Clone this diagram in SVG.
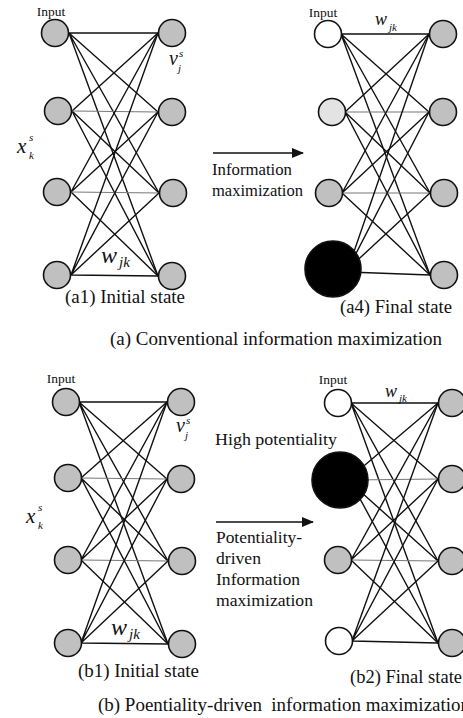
<svg xmlns="http://www.w3.org/2000/svg" width="463" height="718" viewBox="0 0 463 718">
  <style>
    text { font-family: "Liberation Serif", "Times New Roman", serif; fill: #111; }
    .cap { font-size: 18px; }
    .lbl { font-size: 17px; }
    .inp { font-size: 13.5px; text-anchor: middle; }
    .m { font-style: italic; }
    .n { stroke: #111; stroke-width: 1.6; }
    .gray { fill: #c0c0c0; }
    .light { fill: #e3e3e3; }
    .white { fill: #ffffff; }
    .black { fill: #000000; }
    .w { stroke: #111; stroke-width: 1.4; fill: none; }
    .wg { stroke: #777; stroke-width: 1.1; fill: none; }
    .arrow { stroke: #111; stroke-width: 1.6; fill: none; }
  </style>
  <defs>
    <marker id="head" markerWidth="12" markerHeight="10" refX="11" refY="5" orient="auto" markerUnits="userSpaceOnUse">
      <path d="M0,0 L12,5 L0,10 Z" fill="#111"/>
    </marker>
  </defs>

  <!-- (a1) initial network: connectors -->
  <g id="a1-connectors">
    <path class="w" d="M69,33 L158,33 M69,33 L158,112 M69,33 L159,193 M69,33 L158,276"/>
    <path class="w" d="M72,111 L158,33 M72,111 L159,193 M72,111 L158,276"/>
    <path class="wg" d="M72,111 L158,112"/>
    <path class="w" d="M71,192 L158,33 M71,192 L158,112 M71,192 L158,276"/>
    <path class="wg" d="M71,192 L159,193"/>
    <path class="w" d="M71,275 L158,33 M71,275 L158,112 M71,275 L159,193 M71,275 L158,276"/>
  </g>
  <g id="a1-x1"><circle class="n gray" cx="55" cy="33" r="13.5"/></g>
  <g id="a1-x2"><circle class="n gray" cx="58" cy="111" r="13.5"/></g>
  <g id="a1-x3"><circle class="n gray" cx="57" cy="192" r="13.5"/></g>
  <g id="a1-x4"><circle class="n gray" cx="57" cy="275" r="13.5"/></g>
  <g id="a1-v1"><circle class="n gray" cx="172" cy="33" r="13.5"/></g>
  <g id="a1-v2"><circle class="n gray" cx="172" cy="112" r="13.5"/></g>
  <g id="a1-v3"><circle class="n gray" cx="173" cy="193" r="13.5"/></g>
  <g id="a1-v4"><circle class="n gray" cx="172" cy="276" r="13.5"/></g>

  <!-- (a4) final network: connectors -->
  <g id="a4-connectors">
    <path class="w" d="M341,34 L429,34 M341,34 L429,112 M341,34 L430,193 M341,34 L430,275"/>
    <path class="w" d="M345,112 L429,34 M345,112 L430,193 M345,112 L430,275"/>
    <path class="wg" d="M345,112 L429,112"/>
    <path class="w" d="M342,193 L429,34 M342,193 L429,112 M342,193 L430,275"/>
    <path class="wg" d="M342,193 L430,193"/>
    <path class="w" d="M348,269 L429,34 M348,269 L429,112 M348,269 L430,193 M348,272 L430,275"/>
  </g>
  <g id="a4-x1"><circle class="n white" cx="328" cy="34" r="13.5"/></g>
  <g id="a4-x2"><circle class="n light" cx="332" cy="112" r="13.5"/></g>
  <g id="a4-x3"><circle class="n gray" cx="329" cy="193" r="13.5"/></g>
  <g id="a4-x4"><circle class="n black" cx="333" cy="269" r="28"/></g>
  <g id="a4-v1"><circle class="n gray" cx="443" cy="34" r="13.5"/></g>
  <g id="a4-v2"><circle class="n gray" cx="443" cy="112" r="13.5"/></g>
  <g id="a4-v3"><circle class="n gray" cx="444" cy="193" r="13.5"/></g>
  <g id="a4-v4"><circle class="n gray" cx="444" cy="275" r="13.5"/></g>

  <!-- (b1) initial network: connectors -->
  <g id="b1-connectors">
    <path class="w" d="M79,402 L167,402 M79,402 L167,479 M79,402 L168,561 M79,402 L168,644"/>
    <path class="w" d="M81,478 L167,402 M81,478 L168,561 M81,478 L168,644"/>
    <path class="wg" d="M81,478 L167,479"/>
    <path class="w" d="M81,560 L167,402 M81,560 L167,479 M81,560 L168,644"/>
    <path class="wg" d="M81,560 L168,561"/>
    <path class="w" d="M81,643 L167,402 M81,643 L167,479 M81,643 L168,561 M81,643 L168,644"/>
  </g>
  <g id="b1-x1"><circle class="n gray" cx="66" cy="402" r="13.5"/></g>
  <g id="b1-x2"><circle class="n gray" cx="68" cy="478" r="13.5"/></g>
  <g id="b1-x3"><circle class="n gray" cx="68" cy="560" r="13.5"/></g>
  <g id="b1-x4"><circle class="n gray" cx="68" cy="643" r="13.5"/></g>
  <g id="b1-v1"><circle class="n gray" cx="181" cy="402" r="13.5"/></g>
  <g id="b1-v2"><circle class="n gray" cx="181" cy="479" r="13.5"/></g>
  <g id="b1-v3"><circle class="n gray" cx="182" cy="561" r="13.5"/></g>
  <g id="b1-v4"><circle class="n gray" cx="182" cy="644" r="13.5"/></g>

  <!-- (b2) final network: connectors -->
  <g id="b2-connectors">
    <path class="w" d="M351,403 L438,403 M351,403 L438,479 M351,403 L438,561 M351,403 L438,643"/>
    <path class="w" d="M352,476 L438,403 M352,484 L438,561 M352,484 L438,643"/>
    <path class="wg" d="M352,480 L438,479"/>
    <path class="w" d="M351,560 L438,403 M351,560 L438,479 M351,560 L438,643"/>
    <path class="wg" d="M351,560 L438,561"/>
    <path class="w" d="M352,641 L438,403 M352,641 L438,479 M352,641 L438,561 M352,641 L438,643"/>
  </g>
  <g id="b2-x1"><circle class="n white" cx="338" cy="403" r="13.5"/></g>
  <g id="b2-x2"><circle class="n black" cx="340" cy="480" r="28"/></g>
  <g id="b2-x3"><circle class="n gray" cx="338" cy="560" r="13.5"/></g>
  <g id="b2-x4"><circle class="n white" cx="339" cy="641" r="13.5"/></g>
  <g id="b2-v1"><circle class="n gray" cx="452" cy="403" r="13.5"/></g>
  <g id="b2-v2"><circle class="n gray" cx="452" cy="479" r="13.5"/></g>
  <g id="b2-v3"><circle class="n gray" cx="452" cy="561" r="13.5"/></g>
  <g id="b2-v4"><circle class="n gray" cx="452" cy="643" r="13.5"/></g>

  <!-- transition arrows -->
  <g id="arrows">
    <line class="arrow" x1="213" y1="153" x2="303" y2="153" marker-end="url(#head)"/>
    <line class="arrow" x1="216" y1="522" x2="313" y2="522" marker-end="url(#head)"/>
  </g>

  <!-- labels, upper panel -->
  <g id="labels-a">
    <text class="inp" x="51" y="16">Input</text>
    <text class="inp" x="323" y="17">Input</text>
    <text class="m" x="17" y="153" font-size="21">x</text>
    <text class="m" x="29" y="141" font-size="11">s</text>
    <text class="m" x="29" y="159" font-size="11">k</text>
    <text class="m" x="169" y="65" font-size="20">v</text>
    <text class="m" x="179" y="57" font-size="11">s</text>
    <text class="m" x="178" y="72" font-size="11">j</text>
    <text class="m" x="101" y="263" font-size="24">w</text>
    <text class="m" x="119" y="267" font-size="15">jk</text>
    <text class="m" x="375" y="25" font-size="18">w</text>
    <text class="m" x="389" y="31" font-size="11">jk</text>
    <text class="lbl" x="212" y="175" textLength="80" lengthAdjust="spacingAndGlyphs">Information</text>
    <text class="lbl" x="212" y="196" textLength="91" lengthAdjust="spacingAndGlyphs">maximization</text>
    <text class="cap" x="65" y="303" textLength="120" lengthAdjust="spacingAndGlyphs">(a1) Initial state</text>
    <text class="cap" x="340" y="313" textLength="112" lengthAdjust="spacingAndGlyphs">(a4) Final state</text>
    <text class="cap" x="110" y="345" textLength="332" lengthAdjust="spacingAndGlyphs">(a) Conventional information maximization</text>
  </g>

  <!-- labels, lower panel -->
  <g id="labels-b">
    <text class="inp" x="61" y="383">Input</text>
    <text class="inp" x="333" y="384">Input</text>
    <text class="m" x="26" y="523" font-size="21">x</text>
    <text class="m" x="38" y="511" font-size="11">s</text>
    <text class="m" x="38" y="529" font-size="11">k</text>
    <text class="m" x="176" y="432" font-size="20">v</text>
    <text class="m" x="186" y="424" font-size="11">s</text>
    <text class="m" x="185" y="439" font-size="11">j</text>
    <text class="m" x="111" y="635" font-size="24">w</text>
    <text class="m" x="129" y="639" font-size="15">jk</text>
    <text class="m" x="385" y="397" font-size="18">w</text>
    <text class="m" x="399" y="402" font-size="11">jk</text>
    <text class="lbl" x="215" y="445" textLength="122" lengthAdjust="spacingAndGlyphs">High potentiality</text>
    <text class="lbl" x="216" y="543" textLength="86" lengthAdjust="spacingAndGlyphs">Potentiality-</text>
    <text class="lbl" x="216" y="564" textLength="45" lengthAdjust="spacingAndGlyphs">driven</text>
    <text class="lbl" x="216" y="585" textLength="84" lengthAdjust="spacingAndGlyphs">Information</text>
    <text class="lbl" x="216" y="606" textLength="97" lengthAdjust="spacingAndGlyphs">maximization</text>
    <text class="cap" x="78" y="677" textLength="121" lengthAdjust="spacingAndGlyphs">(b1) Initial state</text>
    <text class="cap" x="350" y="683" textLength="112" lengthAdjust="spacingAndGlyphs">(b2) Final state</text>
    <text class="cap" x="98" y="711" textLength="372" lengthAdjust="spacingAndGlyphs" xml:space="preserve">(b) Poentiality-driven  information maximization</text>
  </g>
</svg>
